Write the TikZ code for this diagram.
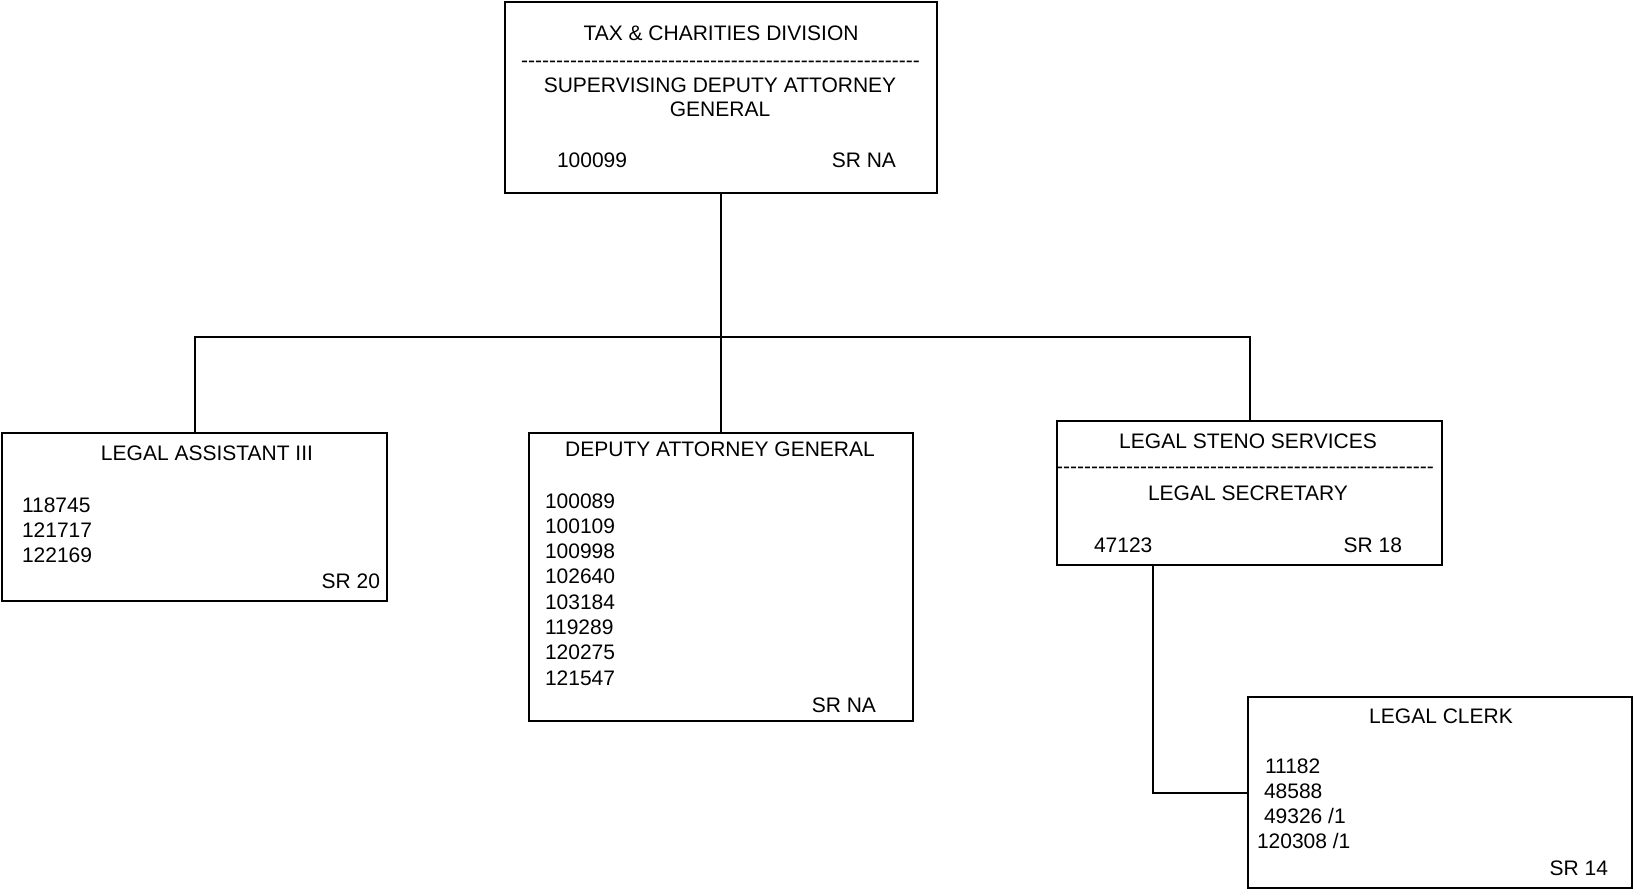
\documentclass[tikz,border=0pt]{standalone}
\usepackage{fontspec}
\setmainfont{Liberation Sans}
\usepackage{tikz}
\usetikzlibrary{calc,fit}
\newcommand\hyphenrow[1]{\foreach\k in {1,...,#1}{\mbox{-}}}

\begin{document}
\begin{tikzpicture}[x=0.5pt,y=-0.5pt,line width=1pt,
    every node/.style={font=\fontsize{10.5}{12.8}\selectfont, inner sep=0pt},
    post/.style={draw, line width=1pt, inner sep=0pt, fit={#1}}]
  \useasboundingbox (0,0) rectangle (1634,891);

  % boxes
  \node[post={(505,2) (937,193)}] (div) {};
  \node[post={(2,433) (387,601)}] (asst) {};
  \node[post={(529,433) (913,721)}] (dag) {};
  \node[post={(1057,421) (1442,565)}] (steno) {};
  \node[post={(1248,697) (1632,888)}] (clerk) {};

  % connectors
  \coordinate (bus) at (0,337);
  \draw (div.south) -- (dag.north);
  \draw (asst.north) -- (asst.north |- bus) -- (steno.north |- bus) -- (steno.north);
  \draw ($(steno.south west)!0.25!(steno.south east)$) |- (clerk.west);

  % division
  \node[anchor=base] (div-name) at (721,40) {TAX \& CHARITIES DIVISION};
  \node[anchor=base] (div-rule) at (720.5,67) {\hyphenrow{57}};
  \node[anchor=base] (div-title1) at (720,92) {SUPERVISING DEPUTY ATTORNEY};
  \node[anchor=base] (div-title2) at (720,116) {GENERAL};
  \node[anchor=base west] (div-pos) at (556,167) {100099};
  \node[anchor=base east] (div-sr) at (897,167) {SR NA};

  % legal assistant
  \node[anchor=base] (asst-title) at (207,460) {LEGAL ASSISTANT III};
  \foreach \num [count=\i from 0] in {118745,121717,122169}
    \node[anchor=base west] (asst-pos\i) at (21,512+25*\i) {\num};
  \node[anchor=base east] (asst-sr) at (381,588) {SR 20};

  % deputy attorney general
  \node[anchor=base] (dag-title) at (720,456) {DEPUTY ATTORNEY GENERAL};
  \foreach \num [count=\i from 0] in {100089,100109,100998,102640,103184,119289,120275,121547}
    \node[anchor=base west] (dag-pos\i) at (544,508+25.3*\i) {\num};
  \node[anchor=base east] (dag-sr) at (877,712) {SR NA};

  % legal steno services
  \node[anchor=base] (steno-name) at (1248,448) {LEGAL STENO SERVICES};
  \node[anchor=base] (steno-rule) at (1245,473) {\hyphenrow{54}};
  \node[anchor=base] (steno-title) at (1248,500) {LEGAL SECRETARY};
  \node[anchor=base west] (steno-pos) at (1093,552) {47123};
  \node[anchor=base east] (steno-sr) at (1403,552) {SR 18};

  % legal clerk
  \node[anchor=base] (clerk-title) at (1441,723) {LEGAL CLERK};
  \node[anchor=base west] (clerk-pos1) at (1264,773) {11182};
  \node[anchor=base west] (clerk-pos2) at (1263,798) {48588};
  \node[anchor=base west] (clerk-pos3) at (1263,823) {49326 /1};
  \node[anchor=base west] (clerk-pos4) at (1256,848) {120308 /1};
  \node[anchor=base east] (clerk-sr) at (1609,875) {SR 14};
\end{tikzpicture}
\end{document}
